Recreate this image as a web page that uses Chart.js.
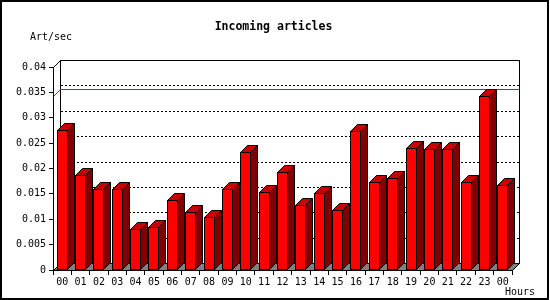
<!DOCTYPE html>
<html>
<head>
<meta charset="utf-8">
<script src="https://cdn.jsdelivr.net/npm/chart.js@4"></script>
<style>
html,body{margin:0;padding:0;background:#fff;}
canvas{display:block;}
</style>
</head>
<body>
<canvas id="c" width="550" height="300"></canvas>
<script>
const hours = ['00','01','02','03','04','05','06','07','08','09','10','11','12','13','14','15','16','17','18','19','20','21','22','23','00'];
const artPerSec = [0.0276,0.0187,0.0160,0.0160,0.0081,0.0084,0.0138,0.0114,0.0104,0.0160,0.0233,0.0153,0.0193,0.0128,0.0152,0.0118,0.0274,0.0173,0.0181,0.0241,0.0239,0.0239,0.0173,0.0343,0.0168];
const yTicks = [0,0.005,0.01,0.015,0.02,0.025,0.03,0.035,0.04];
const yTickLabels = ['0','0.005','0.01','0.015','0.02','0.025','0.03','0.035','0.04'];
const titleText = 'Incoming articles';
const yTitle = 'Art/sec';
const xTitle = 'Hours';

const DEPTH = 7;
const MONO = '"DejaVu Sans Mono", "Liberation Mono", monospace';

const threeD = {
  id: 'threeD',
  beforeDraw(chart) {
    const ctx = chart.ctx;
    ctx.save();
    ctx.fillStyle = '#fff';
    ctx.fillRect(0, 0, chart.width, chart.height);
    ctx.restore();
  },
  beforeDatasetsDraw(chart) {
    const ctx = chart.ctx;
    const {left, right, top, bottom} = chart.chartArea;
    const ys = chart.scales.y;
    const d = DEPTH;
    ctx.save();
    ctx.lineWidth = 1;
    // floor
    ctx.beginPath();
    ctx.moveTo(left + 0.5, bottom + 0.5);
    ctx.lineTo(right + 0.5, bottom + 0.5);
    ctx.lineTo(right + d + 0.5, bottom - d + 0.5);
    ctx.lineTo(left + d + 0.5, bottom - d + 0.5);
    ctx.closePath();
    ctx.fillStyle = '#808080';
    ctx.fill();
    ctx.strokeStyle = '#000';
    ctx.stroke();
    // back wall
    ctx.fillStyle = '#fff';
    ctx.fillRect(left + d + 0.5, top - d + 0.5, right - left, bottom - top);
    ctx.strokeRect(left + d + 0.5, top - d + 0.5, right - left, bottom - top);
    // left wall top diagonal
    ctx.beginPath();
    ctx.moveTo(left + 0.5, top + 0.5);
    ctx.lineTo(left + d + 0.5, top - d + 0.5);
    ctx.stroke();
    // dotted grid on back wall
    ctx.setLineDash([2, 2]);
    yTicks.forEach((v, i) => {
      if (i === 0 || i === yTicks.length - 1) return;
      const py = Math.round(ys.getPixelForValue(v)) - d + 0.5;
      ctx.beginPath();
      ctx.moveTo(left + d + 1, py);
      ctx.lineTo(right + d, py);
      ctx.stroke();
    });
    ctx.setLineDash([]);
    // max line
    const mx = Math.max(...artPerSec);
    const my = Math.round(ys.getPixelForValue(mx)) + 0.5;
    ctx.strokeStyle = '#ff0000';
    ctx.beginPath();
    ctx.moveTo(left + 0.5, my);
    ctx.lineTo(left + d + 0.5, my - d);
    ctx.lineTo(right + d + 0.5, my - d);
    ctx.stroke();
    ctx.restore();
  },
  afterDatasetsDraw(chart) {
    const ctx = chart.ctx;
    const meta = chart.getDatasetMeta(0);
    const d = DEPTH;
    ctx.save();
    ctx.lineWidth = 1;
    ctx.strokeStyle = '#000';
    meta.data.forEach(el => {
      const p = el.getProps(['x', 'y', 'base', 'width'], true);
      const l = Math.round(p.x - p.width / 2) + 0.5;
      const r = Math.round(p.x + p.width / 2) - 0.5;
      const t = Math.round(p.y) + 0.5;
      const b = Math.round(p.base) - 0.5;
      // top face
      ctx.beginPath();
      ctx.moveTo(l, t);
      ctx.lineTo(l + d, t - d);
      ctx.lineTo(r + d, t - d);
      ctx.lineTo(r, t);
      ctx.closePath();
      ctx.fillStyle = '#c80000';
      ctx.fill();
      ctx.stroke();
      // side face
      ctx.beginPath();
      ctx.moveTo(r, t);
      ctx.lineTo(r + d, t - d);
      ctx.lineTo(r + d, b - d);
      ctx.lineTo(r, b);
      ctx.closePath();
      ctx.fillStyle = '#800000';
      ctx.fill();
      ctx.stroke();
      // front face
      ctx.fillStyle = '#ff0000';
      ctx.fillRect(l, t, r - l, b - t);
      ctx.strokeRect(l, t, r - l, b - t);
    });
    ctx.restore();
  },
  afterDraw(chart) {
    const ctx = chart.ctx;
    ctx.save();
    ctx.fillStyle = '#000';
    ctx.textBaseline = 'middle';
    ctx.font = 'bold 11.5px ' + MONO;
    ctx.textAlign = 'center';
    ctx.fillText(titleText, 273.5, 27);
    ctx.font = '10px ' + MONO;
    ctx.textAlign = 'left';
    ctx.fillText(yTitle, 30, 37);
    ctx.fillText(xTitle, 505, 292);
    // frame
    ctx.fillRect(0, 0, 549, 2);
    ctx.fillRect(0, 0, 2, 300);
    ctx.fillRect(547, 0, 2, 300);
    ctx.fillRect(0, 298, 549, 2);
    ctx.restore();
  }
};

new Chart(document.getElementById('c'), {
  type: 'bar',
  data: {
    labels: hours,
    datasets: [{
      data: artPerSec,
      backgroundColor: 'rgba(0,0,0,0)',
      borderWidth: 0,
      barPercentage: 0.6,
      categoryPercentage: 1.0
    }]
  },
  options: {
    responsive: false,
    animation: false,
    devicePixelRatio: 1,
    layout: {padding: {left: 0, right: 38, top: 67, bottom: 0}},
    plugins: {legend: {display: false}, title: {display: false}, tooltip: {enabled: false}},
    scales: {
      x: {
        offset: true,
        grid: {display: true, drawOnChartArea: false, drawTicks: true, tickLength: 5, color: '#000', offset: true},
        border: {display: true, color: '#000', width: 1},
        ticks: {color: '#000', font: {family: MONO, size: 10}, padding: 1, maxRotation: 0, autoSkip: false},
        afterFit(s) { s.height = 30; }
      },
      y: {
        min: 0, max: 0.04,
        grid: {display: true, drawOnChartArea: false, drawTicks: true, tickLength: 4, color: '#000'},
        border: {display: true, color: '#000', width: 1},
        afterBuildTicks(s) { s.ticks = yTicks.map(v => ({value: v})); },
        ticks: {color: '#000', font: {family: MONO, size: 10}, padding: 3,
          callback: (v, i) => yTickLabels[i]},
        afterFit(s) { s.width = 53; }
      }
    }
  },
  plugins: [threeD]
});
</script>
</body>
</html>
